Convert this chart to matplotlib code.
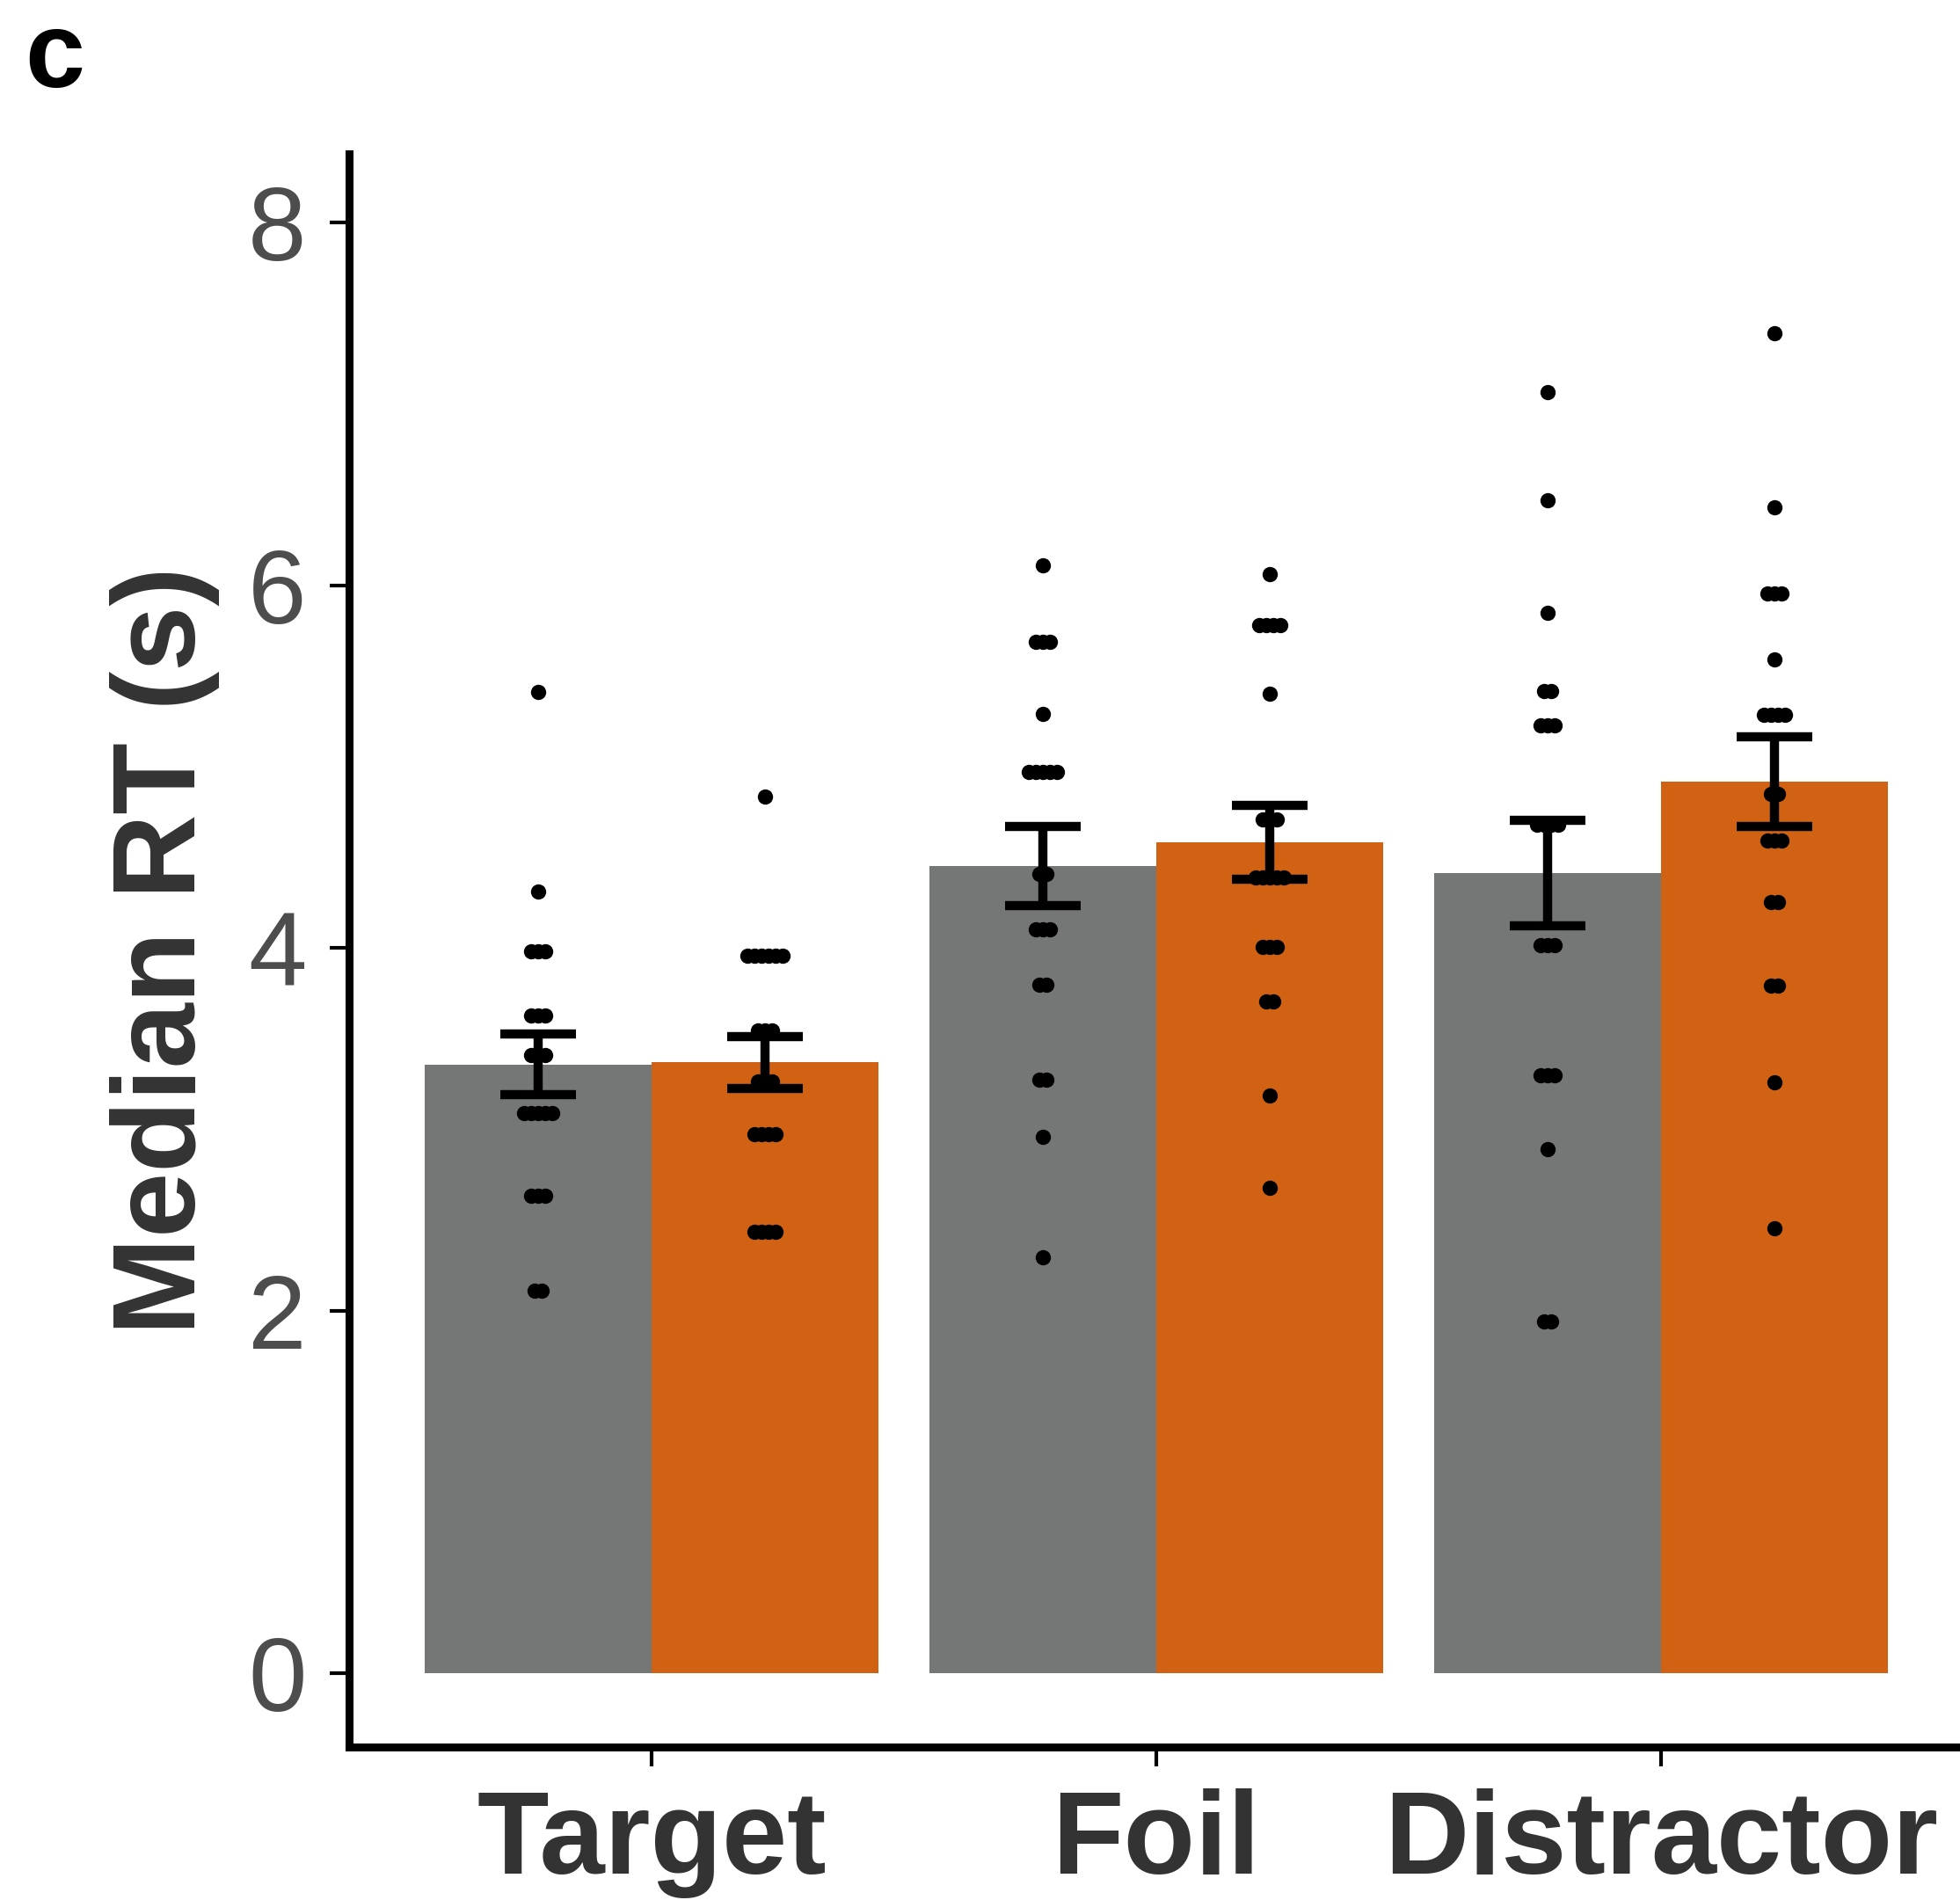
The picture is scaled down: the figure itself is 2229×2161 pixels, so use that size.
import numpy as np
import matplotlib
matplotlib.use("Agg")
import matplotlib.pyplot as plt

# ---------------- data ----------------
categories = ["Target", "Foil", "Distractor"]
mean_gray = [3.358, 4.452, 4.415]
mean_orange = [3.370, 4.582, 4.916]
se_gray = [0.167, 0.219, 0.291]
se_orange = [0.143, 0.202, 0.246]

# individual participant medians (duplicates = stacked dots)
target_gray = [5.41, 4.31, 3.98, 3.98, 3.98, 3.63, 3.63, 3.63, 3.41, 3.41, 3.41,
               3.09, 3.09, 3.09, 3.09, 3.09, 2.635, 2.635, 2.635, 2.11, 2.11]
target_orange = [4.837, 3.956, 3.956, 3.956, 3.956, 3.956, 3.956, 3.547, 3.547, 3.547,
                 3.265, 3.265, 3.265, 2.974, 2.974, 2.974, 2.974, 2.437, 2.437, 2.437, 2.437]
foil_gray = [6.109, 5.688, 5.688, 5.688, 5.289, 4.969, 4.969, 4.969, 4.969, 4.969,
             4.409, 4.409, 4.105, 4.105, 4.105, 3.798, 3.798, 3.273, 3.273, 2.958, 2.295]
foil_orange = [6.06, 5.78, 5.78, 5.78, 5.78, 5.401, 4.711, 4.711, 4.711,
               4.388, 4.388, 4.388, 4.388, 4.388, 4.008, 4.008, 4.008, 3.704, 3.704, 3.189, 2.68]
dist_gray = [7.065, 6.467, 5.85, 5.417, 5.417, 5.228, 5.228, 5.228, 4.679, 4.679, 4.679, 4.679,
             4.016, 4.016, 4.016, 3.30, 3.30, 3.30, 2.893, 1.94, 1.94]
dist_orange = [7.39, 6.428, 5.955, 5.955, 5.955, 5.591, 5.285, 5.285, 5.285, 5.285, 4.848, 4.848,
               4.593, 4.593, 4.593, 4.255, 4.255, 3.793, 3.793, 3.261, 2.457]

points_gray = [target_gray, foil_gray, dist_gray]
points_orange = [target_orange, foil_orange, dist_orange]

yticks = [0, 2, 4, 6, 8]

# ---------------- style ----------------
GRAY = "#757776"
ORANGE = "#D16214"
FONT = "Liberation Sans"
bar_w = 0.45
dot_step = 0.014

fig = plt.figure(figsize=(22.29, 21.61), dpi=100)
ax = fig.add_axes([397 / 2229, 1 - 1987 / 2161, 1836 / 2229, (1987 - 175) / 2161])

x = np.arange(1, len(categories) + 1)
xg = x - bar_w / 2
xo = x + bar_w / 2

ax.bar(xg, mean_gray, width=bar_w, color=GRAY, zorder=1)
ax.bar(xo, mean_orange, width=bar_w, color=ORANGE, zorder=1)


def stacked_x(center, vals):
    vals = np.asarray(vals)
    xs = np.zeros(len(vals))
    for v in np.unique(vals):
        idx = np.where(vals == v)[0]
        k = len(idx)
        xs[idx] = center + (np.arange(k) - (k - 1) / 2) * dot_step
    return xs


for i in range(len(categories)):
    for cx, vals in ((xg[i], points_gray[i]), (xo[i], points_orange[i])):
        ax.scatter(stacked_x(cx, vals), vals, s=12.5 ** 2, color="black",
                   linewidths=0, zorder=3)

for xs, m, e in ((xg, mean_gray, se_gray), (xo, mean_orange, se_orange)):
    ax.errorbar(xs, m, yerr=e, fmt="none", ecolor="black", elinewidth=7.5,
                capsize=31, capthick=7.5, zorder=4)

ax.set_xlim(0.4, 3.6)
ax.set_ylim(-0.405, 8.378)
ax.set_yticks(yticks)
ax.set_yticklabels([str(t) for t in yticks])
ax.set_xticks(x)
ax.set_xticklabels(categories)

for side in ("top", "right"):
    ax.spines[side].set_visible(False)
for side in ("left", "bottom"):
    ax.spines[side].set_linewidth(6.5)
    ax.spines[side].set_color("black")

ax.tick_params(axis="both", length=16, width=3, color="black")
ax.tick_params(axis="y", pad=19)
ax.tick_params(axis="x", pad=18)

for lab in ax.get_yticklabels():
    lab.set_fontfamily(FONT)
    lab.set_fontsize(86)
    lab.set_color("#4D4D4D")
for lab in ax.get_xticklabels():
    lab.set_fontfamily(FONT)
    lab.set_fontsize(96)
    lab.set_fontweight("bold")
    lab.set_color("#333333")

ax.set_ylabel("Median RT (s)", fontfamily=FONT, fontsize=96, fontweight="bold",
              color="#333333")
ax.yaxis.label.set_verticalalignment("baseline")
ax.yaxis.set_label_coords(-0.0953, 0.5)

fig.text(28 / 2229, 1 - 99.5 / 2161, "c", fontfamily=FONT, fontsize=88,
         fontweight="bold", color="black", ha="left", va="baseline")

fig.savefig("out.png", dpi=100)
